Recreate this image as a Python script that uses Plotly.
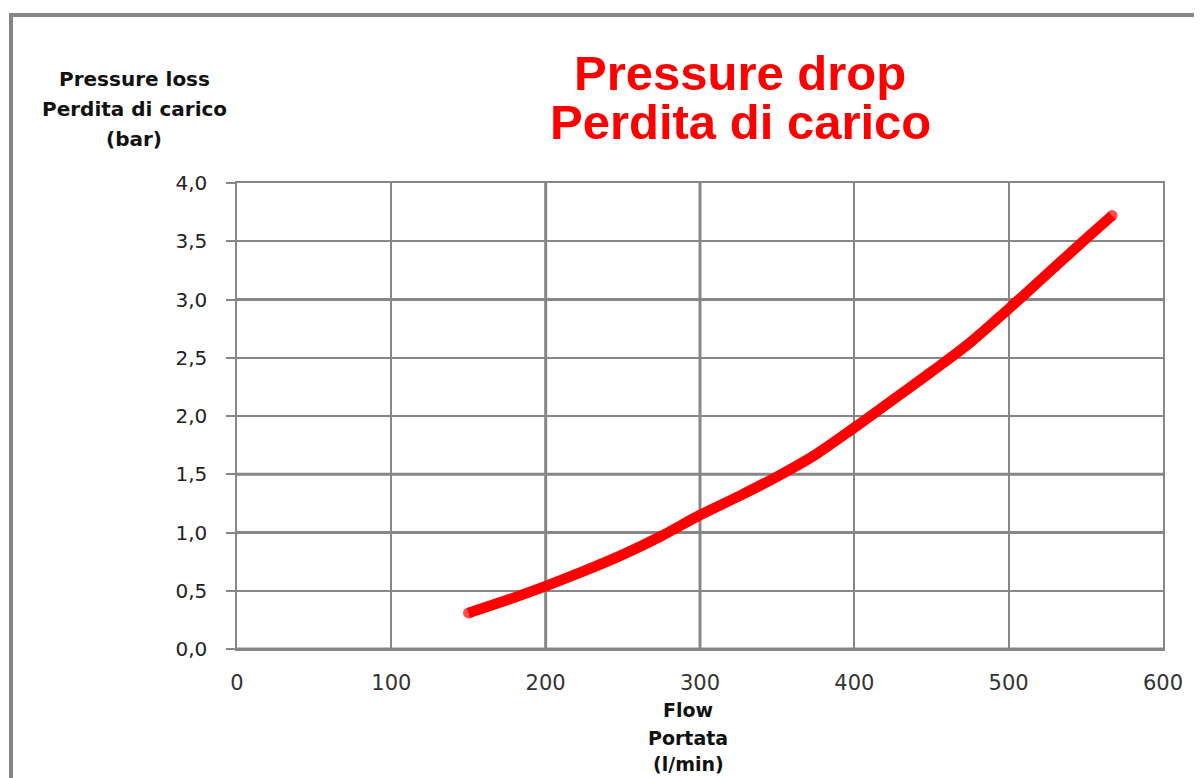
import plotly.graph_objects as go

# Data
flow = [150, 175, 200, 225, 250, 275, 300, 325, 350, 375, 400, 425, 450, 475, 500, 525, 550, 567]
pressure = [0.31, 0.42, 0.54, 0.67, 0.81, 0.97, 1.15, 1.31, 1.48, 1.67, 1.90, 2.14, 2.38, 2.63, 2.92, 3.22, 3.52, 3.72]

x_ticks = [0, 100, 200, 300, 400, 500, 600]
y_ticks = [0.0, 0.5, 1.0, 1.5, 2.0, 2.5, 3.0, 3.5, 4.0]
x_strong = [200, 300]
y_strong = [0.0, 1.0, 1.5, 3.0]

title_lines = ["Pressure drop", "Perdita di carico"]
ytitle_lines = ["Pressure loss", "Perdita di carico", "(bar)"]
xtitle_lines = ["Flow", "Portata", "(l/min)"]

OFF = 8  # page body margin
W, H = 1194, 770
L, R, T, B = 229, 39, 175, 129
PW, PH = W - L - R, H - T - B


def px_x(p):
    return (p - OFF - L) / PW


def px_y(p):
    return 1 - (p - OFF - T) / PH


GRID = "#878787"

sizes = [11] + [0] * (len(flow) - 2) + [11]

fig = go.Figure()
fig.add_trace(go.Scatter(
    x=flow, y=pressure, mode="lines+markers",
    line=dict(color="#ff0000", width=10.5, shape="spline", smoothing=1.0),
    marker=dict(color="#ff0000", size=sizes, line=dict(width=0)),
    showlegend=False, hoverinfo="x+y",
))

shapes = []
for xv in x_strong:
    shapes.append(dict(type="line", xref="x", yref="paper", x0=xv, x1=xv, y0=0, y1=1,
                       line=dict(color=GRID, width=3), layer="below"))
for yv in y_strong:
    shapes.append(dict(type="line", xref="paper", yref="y", x0=0, x1=1, y0=yv, y1=yv,
                       line=dict(color=GRID, width=3), layer="below"))
# outer frame
shapes.append(dict(type="rect", xref="paper", yref="paper",
                   x0=px_x(11), x1=px_x(1260), y0=px_y(840), y1=px_y(15),
                   line=dict(color="#858585", width=4), fillcolor="rgba(0,0,0,0)", layer="above"))

annotations = []
title_y = [73, 122]
for txt, yy in zip(title_lines, title_y):
    annotations.append(dict(text="<b>" + txt + "</b>", xref="paper", yref="paper",
                            x=px_x(740), y=px_y(yy), xanchor="center", yanchor="middle",
                            showarrow=False,
                            font=dict(family="Liberation Sans, Arial", size=49, color="#ff0000")))
ytitle_y = [79, 109, 139]
for txt, yy in zip(ytitle_lines, ytitle_y):
    annotations.append(dict(text="<b>" + txt + "</b>", xref="paper", yref="paper",
                            x=px_x(134), y=px_y(yy), xanchor="center", yanchor="middle",
                            showarrow=False,
                            font=dict(family="DejaVu Sans", size=20, color="#111111")))
xtitle_y = [710, 738, 764]
for txt, yy in zip(xtitle_lines, xtitle_y):
    annotations.append(dict(text="<b>" + txt + "</b>", xref="paper", yref="paper",
                            x=px_x(688), y=px_y(yy), xanchor="center", yanchor="middle",
                            showarrow=False,
                            font=dict(family="DejaVu Sans", size=19, color="#111111")))

fig.update_layout(
    width=W, height=H,
    margin=dict(l=L, r=R, t=T, b=B, pad=0),
    paper_bgcolor="white", plot_bgcolor="white",
    separators=",.",
    shapes=shapes, annotations=annotations,
    showlegend=False,
)
fig.update_xaxes(
    range=[0, 600], tickvals=x_ticks, showgrid=True, gridcolor=GRID, gridwidth=1.5,
    showline=True, linecolor=GRID, linewidth=1.5, mirror=True,
    ticks="", ticklabelstandoff=14, zeroline=False,
    tickfont=dict(family="DejaVu Sans", size=21, color="#333333"),
)
fig.update_yaxes(
    range=[0, 4], tickvals=y_ticks, tickformat=".1f", showgrid=True, gridcolor=GRID, gridwidth=1.5,
    showline=True, linecolor=GRID, linewidth=1.5, mirror=True,
    ticks="outside", ticklen=9, tickcolor=GRID, tickwidth=1.5, ticklabelstandoff=15, zeroline=False,
    tickfont=dict(family="DejaVu Sans", size=20, color="#222222"),
)

fig.write_html("out.html")
